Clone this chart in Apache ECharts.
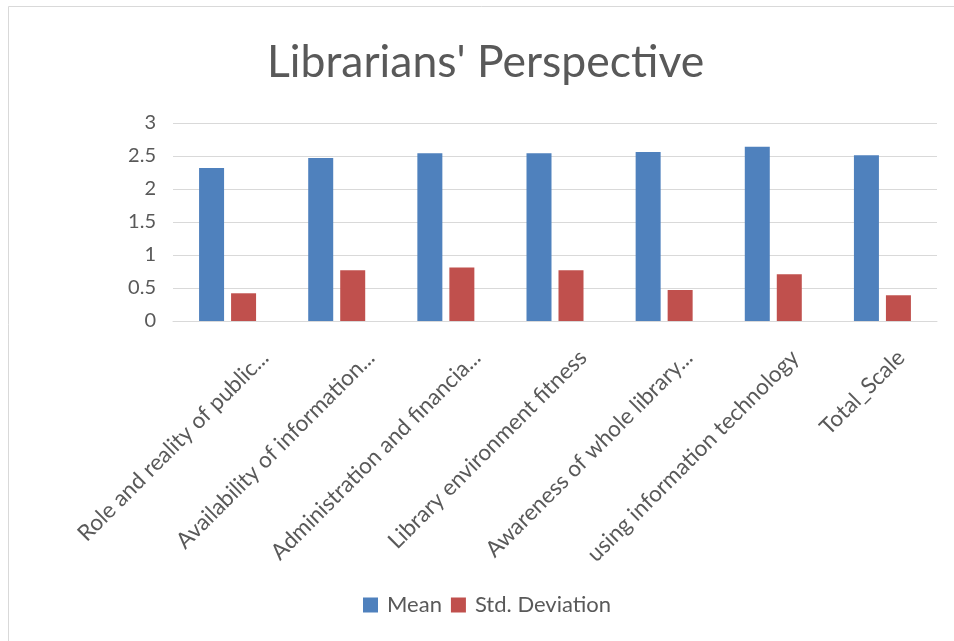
<!DOCTYPE html>
<html>
<head>
<meta charset="utf-8">
<script src="https://cdn.jsdelivr.net/npm/echarts@6/dist/echarts.min.js"></script>
<style>
    html, body { margin: 0; padding: 0; background: #fff; }
    #chart { width: 954px; height: 641px; }
</style>
</head>
<body>
<div id="chart"></div>
<script>
(function() {
"use strict";

    // 类别
    var categories = [
        'Role and reality of public...',
        'Availability of information...',
        'Administration and financia...',
        'Library environment fitness',
        'Awareness of whole library...',
        'using information technology',
        'Total_Scale'
    ];
    // 数据
    var meanValues = [2.32, 2.47, 2.54, 2.54, 2.56, 2.64, 2.51];
    var stdValues = [0.42, 0.77, 0.81, 0.77, 0.47, 0.71, 0.39];
    var seriesNames = ['Mean', 'Std. Deviation'];

    var font = 'Lato';
    var textColor = '#595959';
    var gridColor = '#d9d9d9';

    var myChart = echarts.init(document.getElementById('chart'));
    var option = {
        backgroundColor: '#fff',
        animation: false,
        title: {
            text: "Librarians' Perspective",
            left: 262,
            top: 35,
            textStyle: {
                fontFamily: font,
                fontSize: 44.5,
                fontWeight: 'normal',
                color: textColor
            }
        },
        graphic: [{ // 外框
            type: 'rect',
            shape: { x: 8.5, y: 6.5, width: 1000, height: 700 },
            style: { fill: 'none', stroke: gridColor, lineWidth: 1 },
            silent: true
        }],
        legend: {
            data: seriesNames,
            bottom: 20,
            left: 358,
            itemWidth: 15,
            itemHeight: 15,
            itemGap: 9,
            icon: 'rect',
            textStyle: { fontFamily: font, fontSize: 22, color: textColor, padding: [0, 0, 0, 4] }
        },
        grid: [{
            left: 173, right: 17, top: 123, bottom: 320
        }, { // 标签用网格，向右偏移
            left: 212, right: -22, top: 123, bottom: 320
        }],
        xAxis: [{
            type: 'category',
            gridIndex: 0,
            data: categories,
            axisLine: { lineStyle: { color: gridColor, width: 1 } },
            axisTick: { show: false },
            axisLabel: { show: false }
        }, {
            type: 'category',
            gridIndex: 1,
            data: categories,
            axisLine: { show: false },
            axisTick: { show: false },
            axisLabel: {
                interval: 0,
                rotate: 45,
                margin: 33,
                fontFamily: font,
                fontSize: 22.5,
                color: textColor
            }
        }],
        yAxis: [{
            type: 'value',
            gridIndex: 0,
            min: 0,
            max: 3,
            interval: 0.5,
            axisLine: { show: false },
            axisTick: { show: false },
            splitLine: { lineStyle: { color: gridColor, width: 1 } },
            axisLabel: {
                margin: 17,
                fontFamily: font,
                fontSize: 20,
                color: textColor
            }
        }, {
            type: 'value',
            gridIndex: 1,
            show: false
        }],
        series: [{
            name: seriesNames[0],
            type: 'bar',
            data: meanValues,
            barWidth: 25,
            barGap: '28%',
            itemStyle: { color: '#4F81BD' }
        }, {
            name: seriesNames[1],
            type: 'bar',
            data: stdValues,
            barWidth: 25,
            barGap: '28%',
            itemStyle: { color: '#C0504D' }
        }]
    };
    myChart.setOption(option);
})();
</script>
</body>
</html>
